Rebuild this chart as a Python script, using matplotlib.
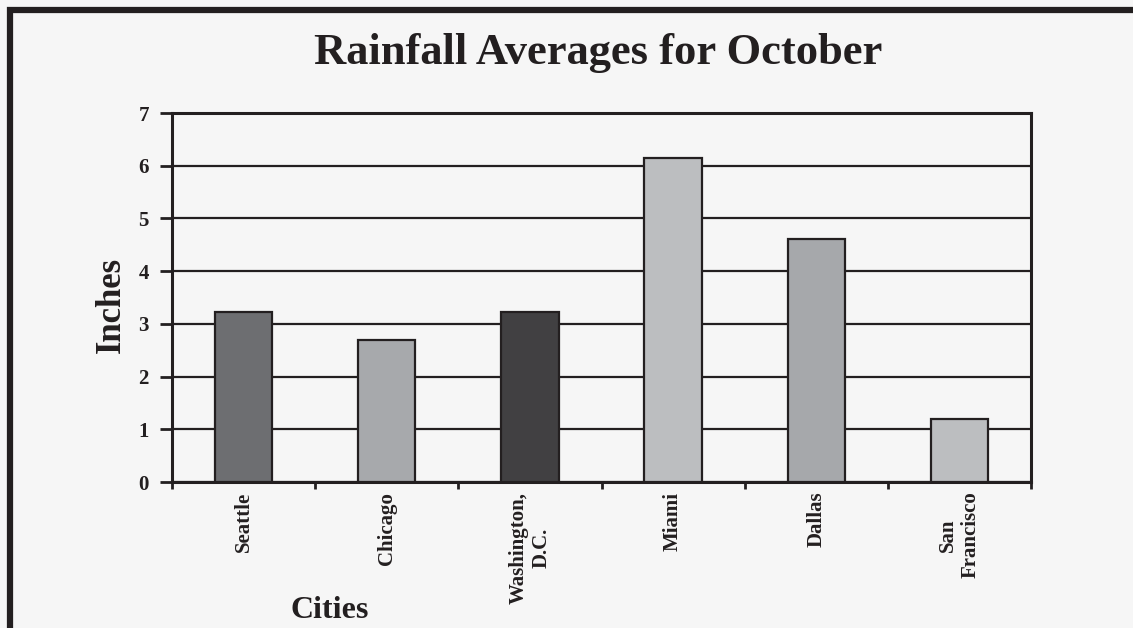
import numpy as np
import matplotlib
matplotlib.use('Agg')
import matplotlib.pyplot as plt
from matplotlib.patches import Rectangle

# values
cities = ['Seattle', 'Chicago', 'Washington,\nD.C.', 'Miami', 'Dallas', 'San\nFrancisco']
inches = [3.22, 2.69, 3.22, 6.15, 4.61, 1.19]
bar_colors = ['#6d6e71', '#a7a9ac', '#414042', '#bcbec0', '#a6a8ab', '#bcbec0']
yticks = [0, 1, 2, 3, 4, 5, 6, 7]

ink = '#231f20'
bg = '#f6f6f6'

plt.rcParams['font.family'] = ['Liberation Serif', 'DejaVu Serif']
plt.rcParams['font.weight'] = 'bold'

fig = plt.figure(figsize=(11.33, 6.28), dpi=100, facecolor=bg)
ax = fig.add_axes([172 / 1133, 1 - 482 / 628, (1031 - 172) / 1133, (482 - 113) / 628])
ax.set_facecolor(bg)

x = np.arange(len(cities))
ax.bar(x, inches, width=0.4, color=bar_colors, edgecolor=ink, linewidth=1.6, zorder=3)

ax.set_xlim(-0.5, len(cities) - 0.5)
ax.set_ylim(0, 7)
ax.set_yticks(yticks)
ax.set_yticklabels([str(v) for v in yticks], fontsize=15, fontweight='bold', color=ink)
ax.yaxis.grid(True, color=ink, linewidth=1.6, zorder=1)
ax.set_axisbelow(True)

ax.set_xticks(x)
ax.set_xticklabels(cities, rotation=90, fontsize=15, fontweight='bold', color=ink,
                   ha='center', va='top', multialignment='center')
ax.set_xticks(np.arange(-0.5, len(cities)), minor=True)
ax.tick_params(axis='x', which='major', length=0, pad=7)
ax.tick_params(axis='x', which='minor', length=5, width=2, color=ink, direction='out')
ax.tick_params(axis='y', length=8.6, width=2, color=ink, direction='out', pad=8)

for s in ax.spines.values():
    s.set_color(ink)
    s.set_linewidth(2.2)

fig.text(0.528, 1 - 64 / 628, 'Rainfall Averages for October', fontsize=32,
         fontweight='bold', color=ink, ha='center', va='baseline')
fig.text(111 / 1133, 1 - 305 / 628, 'Inches', fontsize=25, fontweight='bold',
         color=ink, rotation=90, ha='center', va='center')
fig.text(330 / 1133, 1 - 618 / 628, 'Cities', fontsize=23, fontweight='bold',
         color=ink, ha='center', va='baseline')

# thick frame around the chart, cut off at right and bottom
fig.patches.append(Rectangle((10 / 1133, -0.2), 1.2, 1.2 - 10 / 628, transform=fig.transFigure,
                             fill=False, edgecolor=ink, linewidth=4.5, clip_on=False))

fig.savefig('out.png', dpi=100, facecolor=bg)
